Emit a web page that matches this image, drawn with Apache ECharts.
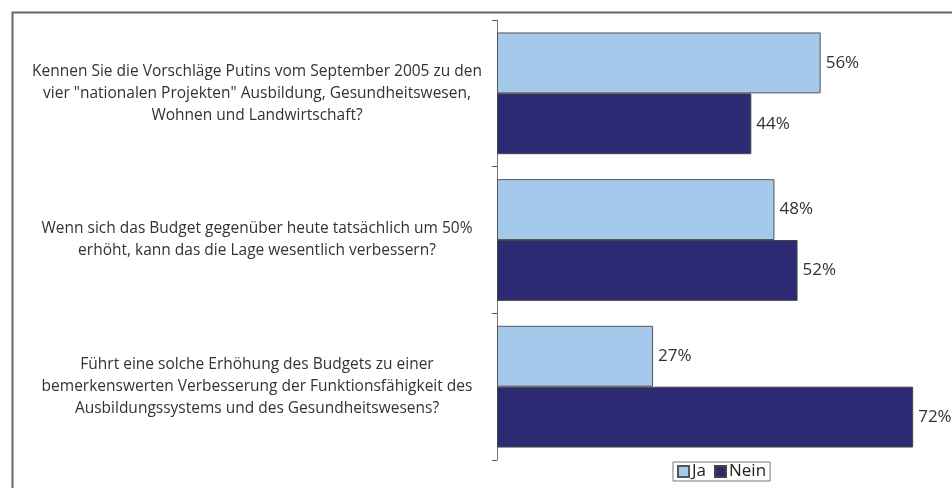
<!DOCTYPE html>
<html><head><meta charset="utf-8">
<script src="https://cdn.jsdelivr.net/npm/echarts@6/dist/echarts.min.js"></script>
<style>html,body{margin:0;padding:0;background:#fff}#c{width:952px;height:488px}</style>
</head><body><div id="c"></div>
<script>
const categories = [
  'Kennen Sie die Vorschläge Putins vom September 2005 zu den\nvier "nationalen Projekten" Ausbildung, Gesundheitswesen,\nWohnen und Landwirtschaft?',
  'Wenn sich das Budget gegenüber heute tatsächlich um 50%\nerhöht, kann das die Lage wesentlich verbessern?',
  'Führt eine solche Erhöhung des Budgets zu einer\nbemerkenswerten Verbesserung der Funktionsfähigkeit des\nAusbildungssystems und des Gesundheitswesens?'
];
const jaValues = [56, 48, 27];
const neinValues = [44, 52, 72];
const seriesNames = ['Ja', 'Nein'];

const FONT = 'Open Sans';
const chart = echarts.init(document.getElementById('c'));
const labelCfg = {show:true, position:'right', distance:5, formatter:'{c}%', color:'#333', fontSize:17, fontFamily:FONT};
chart.setOption({
  animation:false,
  textStyle:{fontFamily:FONT},
  graphic:[{type:'rect', left:10, top:10, shape:{width:1000,height:1000}, style:{fill:'none', stroke:'#666', lineWidth:2}, silent:true}],
  grid:{left:497, top:20, width:5.78*75, height:440},
  legend:{data:seriesNames, left:673, top:462, itemWidth:11, itemHeight:11, itemGap:8, padding:[1,4],
    borderColor:'#777', borderWidth:1, textStyle:{fontSize:17, color:'#222', fontFamily:FONT, padding:[0,0,0,-2]},
    icon:'rect'},
  xAxis:{type:'value', min:0, max:75, show:false},
  yAxis:{type:'category', data:categories, inverse:true,
    axisLine:{show:true, lineStyle:{color:'#777', width:1}},
    axisTick:{show:true, inside:false, length:5, lineStyle:{color:'#555'}},
    axisLabel:{align:'center', margin:240, fontSize:15.5, lineHeight:22, color:'#333', fontFamily:FONT}},
  series:[
    {name:'Ja', type:'bar', data:jaValues, barGap:'0%', barCategoryGap:'17%',
     itemStyle:{color:'#A4C9EB', borderColor:'#555', borderWidth:1}, label:labelCfg},
    {name:'Nein', type:'bar', data:neinValues, barGap:'0%', barCategoryGap:'17%',
     itemStyle:{color:'#2B2A73', borderColor:'#444', borderWidth:1}, label:labelCfg}
  ]
});
</script></body></html>
